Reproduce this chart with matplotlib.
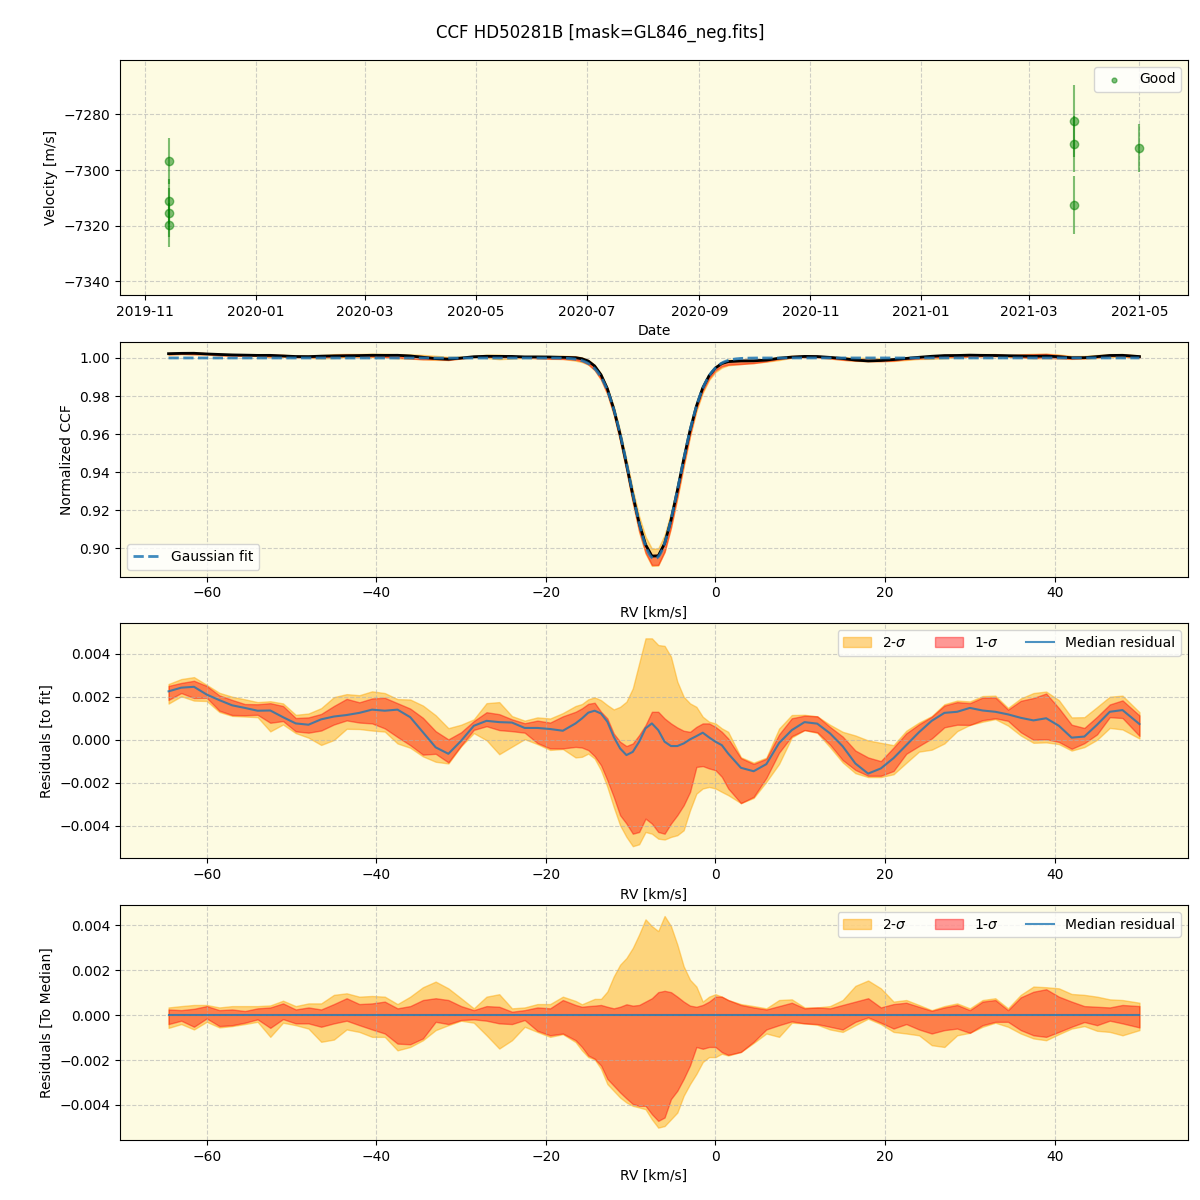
import numpy as np
import matplotlib
matplotlib.use("Agg")
import matplotlib.pyplot as plt
import matplotlib.dates as mdates
from datetime import datetime

# ---------------- data ----------------
obs_dates = ["2019-11-14", "2019-11-14", "2019-11-14", "2019-11-14",
             "2021-03-26", "2021-03-26", "2021-03-26", "2021-05-01"]
obs_rv = [-7296.8, -7311.3, -7315.3, -7319.8,
          -7282.3, -7290.6, -7312.6, -7292.1]
obs_err = [8.3, 8.0, 8.7, 8.0, 13.0, 10.1, 10.5, 8.7]

# RV grid of the CCF [km/s] (finer sampling across the line core)
rv = np.concatenate([np.arange(-64.5, -17.9, 1.5),
                     np.arange(-16.5, 1.6, 0.75),
                     np.arange(3.0, 48.1, 1.5),
                     [50.0]])

# Gaussian fit parameters
fit_continuum = 1.0
fit_depth = 0.1055
fit_center = -7.17
fit_sigma = 2.92

# median residual to the fit (units of 1e-3)
median_res = [2.25, 2.42, 2.46, 2.10, 1.84, 1.60, 1.48, 1.35, 1.36, 1.05,
              0.76, 0.70, 0.95, 1.08, 1.15, 1.25, 1.40, 1.35, 1.40, 1.05,
              0.35, -0.35, -0.65, -0.05, 0.65, 0.88, 0.82, 0.80, 0.55, 0.55,
              0.50, 0.42,
              0.76, 0.99, 1.26, 1.35, 1.22, 0.84, 0.14, -0.40, -0.71, -0.56,
              -0.09, 0.53, 0.76, 0.45, -0.09, -0.29, -0.29, -0.17, 0.02, 0.17,
              0.33, 0.11, -0.09, -0.25, -0.64,
              -1.30, -1.46, -1.13, -0.15, 0.45, 0.82, 0.75, 0.30, -0.30, -1.10,
              -1.57, -1.33, -0.85, -0.25, 0.35, 0.88, 1.25, 1.30, 1.48, 1.36,
              1.30, 1.18, 1.02, 0.90, 1.00, 0.65, 0.10, 0.15, 0.70, 1.30,
              1.38, 0.73]

# percentile bands relative to the median (units of 1e-3), panel 4
hi2 = [0.34, 0.40, 0.45, 0.45, 0.34, 0.40, 0.40, 0.40, 0.43, 0.64,
       0.40, 0.52, 0.52, 0.90, 0.97, 0.82, 0.85, 0.82, 0.49, 0.82,
       1.24, 1.49, 1.19, 0.75, 0.30, 0.82, 0.93, 0.30, 0.34, 0.49,
       0.49, 0.82,
       0.63, 0.48, 0.60, 0.72, 0.72, 1.05, 1.72, 2.24, 2.54, 2.99,
       3.59, 4.26, 3.96, 3.74, 4.41, 3.96, 3.14, 2.17, 1.57, 1.27,
       0.60, 0.82, 0.93, 0.82, 0.67,
       0.49, 0.40, 0.30, 0.67, 0.70, 0.34, 0.34, 0.40, 0.67, 1.30,
       1.54, 1.19, 0.60, 0.67, 0.45, 0.22, 0.40, 0.52, 0.30, 0.67,
       0.75, 0.30, 0.90, 1.27, 1.24, 1.19, 0.94, 0.90, 0.82, 0.70,
       0.67, 0.55]
hi1 = [0.25, 0.22, 0.28, 0.40, 0.22, 0.25, 0.18, 0.30, 0.34, 0.52,
       0.25, 0.34, 0.25, 0.49, 0.75, 0.49, 0.52, 0.60, 0.30, 0.40,
       0.67, 0.75, 0.67, 0.40, 0.22, 0.40, 0.37, 0.15, 0.22, 0.34,
       0.30, 0.67,
       0.45, 0.37, 0.40, 0.42, 0.45, 0.37, 0.30, 0.37, 0.48, 0.42,
       0.45, 0.60, 0.75, 1.02, 1.08, 1.02, 0.82, 0.60, 0.42, 0.37,
       0.45, 0.60, 0.82, 0.82, 0.67,
       0.45, 0.34, 0.25, 0.40, 0.55, 0.30, 0.34, 0.30, 0.45, 0.60,
       0.75, 0.34, 0.49, 0.55, 0.37, 0.19, 0.34, 0.45, 0.22, 0.60,
       0.67, 0.22, 0.79, 1.04, 1.15, 0.82, 0.60, 0.40, 0.37, 0.34,
       0.45, 0.40]
lo1 = [-0.40, -0.25, -0.52, -0.15, -0.49, -0.45, -0.34, -0.19, -0.57, -0.18,
       -0.37, -0.37, -0.52, -0.37, -0.25, -0.45, -0.64, -0.82, -1.27, -1.30,
       -1.04, -0.30, -0.40, -0.22, -0.19, -0.25, -0.37, -0.40, -0.22, -0.70,
       -0.90, -0.82,
       -1.12, -1.42, -1.80, -1.94, -2.24, -2.84, -3.14, -3.44, -3.71, -3.96,
       -4.04, -4.04, -4.41, -4.71, -4.56, -3.74, -3.37, -2.84, -2.24, -1.42,
       -1.50, -1.42, -1.42, -1.65, -1.77,
       -1.64, -1.19, -0.64, -0.45, -0.28, -0.37, -0.40, -0.52, -0.64, -0.30,
       -0.10, -0.34, -0.60, -0.40, -0.64, -0.82, -0.67, -0.60, -0.79, -0.45,
       -0.30, -0.30, -0.67, -0.90, -0.97, -0.75, -0.52, -0.31, -0.45, -0.25,
       -0.37, -0.55]
lo2 = [-0.57, -0.40, -0.64, -0.30, -0.55, -0.49, -0.40, -0.30, -0.97, -0.34,
       -0.45, -0.60, -1.19, -1.09, -0.64, -0.75, -0.97, -0.97, -1.57, -1.42,
       -1.12, -0.67, -0.45, -0.25, -0.34, -0.90, -1.49, -1.12, -0.52, -0.75,
       -0.97, -0.85,
       -1.20, -1.57, -1.87, -1.97, -2.39, -3.07, -3.37, -3.67, -3.89, -4.04,
       -4.11, -4.19, -4.64, -5.01, -4.94, -4.64, -4.34, -3.59, -3.07, -2.62,
       -2.09, -1.87, -1.87, -1.72, -1.80,
       -1.64, -1.24, -0.82, -0.97, -0.34, -0.37, -0.43, -0.64, -0.75, -0.45,
       -0.16, -0.40, -0.75, -0.82, -0.90, -1.34, -1.42, -0.90, -0.79, -0.52,
       -0.34, -0.52, -0.82, -1.04, -1.12, -0.85, -0.60, -0.49, -0.70, -0.75,
       -0.90, -0.67]

# residual-to-fit bands across the line core (units of 1e-3), panel 3, rv -16.5..1.5
core_hi2 = [1.57, 1.66, 1.88, 1.97, 1.84, 1.61, 1.41, 1.53, 1.77, 2.39,
            3.55, 4.71, 4.71, 4.40, 4.36, 3.86, 2.70, 2.00, 1.69, 1.53,
            1.07, 0.84, 0.76, 0.53, 0.37]
core_hi1 = [1.30, 1.46, 1.67, 1.72, 1.30, 0.99, 0.29, -0.09, -0.29, -0.17,
            0.22, 0.68, 1.30, 1.30, 0.99, 0.76, 0.57, 0.42, 0.37, 0.60,
            0.76, 0.76, 0.60, 0.37, 0.06]
core_lo1 = [-0.33, -0.36, -0.48, -0.76, -1.18, -1.88, -2.65, -3.50, -3.89, -4.36,
            -4.28, -3.66, -3.89, -4.28, -4.36, -3.89, -3.50, -3.04, -2.42, -1.26,
            -1.22, -1.33, -1.41, -1.72, -2.26]
core_lo2 = [-0.82, -0.79, -0.64, -0.87, -1.41, -2.19, -3.12, -3.97, -4.51, -4.94,
            -4.85, -4.28, -4.36, -4.59, -4.63, -4.51, -4.43, -4.20, -3.27, -2.50,
            -2.26, -2.19, -2.26, -2.42, -2.57]

title = "CCF HD50281B [mask=GL846_neg.fits]"

# ---------------- derived ----------------
scale = 1e-3
med = np.array(median_res) * scale
o_hi2 = np.array(hi2) * scale
o_hi1 = np.array(hi1) * scale
o_lo1 = np.array(lo1) * scale
o_lo2 = np.array(lo2) * scale

core = slice(32, 57)
r_hi2 = med + o_hi2
r_hi1 = med + o_hi1
r_lo1 = med + o_lo1
r_lo2 = med + o_lo2
r_hi2[core] = np.array(core_hi2) * scale
r_hi1[core] = np.array(core_hi1) * scale
r_lo1[core] = np.array(core_lo1) * scale
r_lo2[core] = np.array(core_lo2) * scale


def gaussian(v):
    return fit_continuum - fit_depth * np.exp(-0.5 * ((v - fit_center) / fit_sigma) ** 2)


gauss = gaussian(rv)
rv_fine = np.linspace(rv[0], rv[-1], 800)

bg = "#fdfbe2"
c2 = "orange"
c1 = "red"
a2 = 0.45
a1 = 0.4
grid_kw = dict(linestyle="--", color="#b0b0b0", alpha=0.6, linewidth=0.8)

fig, axes = plt.subplots(4, 1, figsize=(12, 12), dpi=100)
fig.subplots_adjust(left=0.1, right=0.99, top=0.95, bottom=0.05, hspace=0.2)
fig.suptitle(title, fontsize=12)

# Panel 1: RV time series
ax = axes[0]
ax.set_facecolor(bg)
dates = [datetime.strptime(d, "%Y-%m-%d") for d in obs_dates]
ax.errorbar(dates, obs_rv, yerr=obs_err, fmt="o", color="green", alpha=0.5,
            ms=6, elinewidth=1.5)
ax.scatter([], [], s=12, color="green", alpha=0.5, label="Good")
ax.set_ylim(-7344.8, -7260.5)
ax.set_xlabel("Date")
ax.set_ylabel("Velocity [m/s]")
ax.xaxis.set_major_locator(mdates.MonthLocator(bymonth=[1, 3, 5, 7, 9, 11]))
ax.xaxis.set_major_formatter(mdates.DateFormatter("%Y-%m"))
ax.grid(True, **grid_kw)
ax.legend(loc="upper right")

# Panel 2: CCF
ax = axes[1]
ax.set_facecolor(bg)
ax.fill_between(rv, gauss + r_lo2, gauss + r_hi2, color=c2, alpha=a2)
ax.fill_between(rv, gauss + r_lo1, gauss + r_hi1, color=c1, alpha=a1)
ax.plot(rv, gauss + med, color="black", lw=2)
ax.plot(rv_fine, gaussian(rv_fine), "--", color="C0", lw=2, alpha=0.85, label="Gaussian fit")
ax.set_xlabel("RV [km/s]")
ax.set_ylabel("Normalized CCF")
ax.grid(True, **grid_kw)
ax.legend(loc="lower left")

# Panel 3: residuals to fit
ax = axes[2]
ax.set_facecolor(bg)
ax.fill_between(rv, r_lo2, r_hi2, color=c2, alpha=a2, label="2-$\\sigma$")
ax.fill_between(rv, r_lo1, r_hi1, color=c1, alpha=a1, label="1-$\\sigma$")
ax.plot(rv, med, color="C0", lw=1.5, alpha=0.8, label="Median residual")
ax.set_ylim(-0.0055, 0.0054)
ax.set_xlabel("RV [km/s]")
ax.set_ylabel("Residuals [to fit]")
ax.grid(True, **grid_kw)
ax.legend(loc="upper right", ncol=3)

# Panel 4: residuals to median
ax = axes[3]
ax.set_facecolor(bg)
ax.fill_between(rv, o_lo2, o_hi2, color=c2, alpha=a2, label="2-$\\sigma$")
ax.fill_between(rv, o_lo1, o_hi1, color=c1, alpha=a1, label="1-$\\sigma$")
ax.plot(rv, np.zeros_like(rv), color="C0", lw=1.5, alpha=0.8, label="Median residual")
ax.set_ylim(-0.00556, 0.00489)
ax.set_xlabel("RV [km/s]")
ax.set_ylabel("Residuals [To Median]")
ax.grid(True, **grid_kw)
ax.legend(loc="upper right", ncol=3)

fig.savefig("out.png", dpi=100)
